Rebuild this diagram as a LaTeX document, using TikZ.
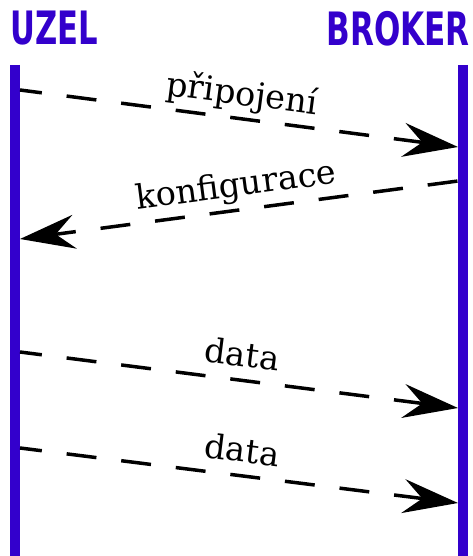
\documentclass[tikz,border=0pt]{standalone}
\usepackage{fontspec}
\setmainfont{DejaVu Serif}
\newfontfamily\headfont{DejaVu Sans Condensed}
\usetikzlibrary{arrows.meta}
\definecolor{lanecolor}{RGB}{51,0,204}

\begin{document}
\begin{tikzpicture}[x=1pt,y=-1pt,
	lane/.style={lanecolor,line width=10pt},
	actor/.style={text=lanecolor,inner sep=0pt,font=\headfont\bfseries\fontsize{46}{46}\selectfont},
	msg/.style={dash pattern=on 30pt off 25pt,dash phase=8pt,line width=3.5pt,
		-{Stealth[length=55pt,width=34pt,inset=19pt]}},
	lbl/.style={sloped,above=12pt,inner sep=0pt,text depth=0pt,font=\fontsize{33.5}{38}\selectfont}]
	\useasboundingbox (0,0) rectangle (472,556);
	% the two lanes
	\node[actor,anchor=north west] (uzel) at (10,11) {\scalebox{0.74}[1]{UZEL}};
	\node[actor,anchor=north east] (broker) at (470,11) {\scalebox{0.75}[1]{BROKER}};
	\draw[lane] (15,65) coordinate (ltop) -- (15,556) coordinate (lbot);
	\draw[lane] (463,65) coordinate (rtop) -- (463,556) coordinate (rbot);
	% message end points on the lane edges
	\coordinate (u1) at (20,90);   \coordinate (b1) at (458,147);
	\coordinate (u2) at (20,239);  \coordinate (b2) at (458,181);
	\coordinate (u3) at (20,352);  \coordinate (b3) at (458,408);
	\coordinate (u4) at (20,448);  \coordinate (b4) at (458,503);
	% messages
	\draw[msg] (u1) -- node[lbl] {připojení} (b1);
	\draw[msg,{Stealth[length=55pt,width=34pt,inset=19pt]}-] (u2) -- node[lbl] {konfigurace} (b2);
	\draw[msg] (u3) -- node[lbl] {data} (b3);
	\draw[msg] (u4) -- node[lbl] {data} (b4);
\end{tikzpicture}
\end{document}
